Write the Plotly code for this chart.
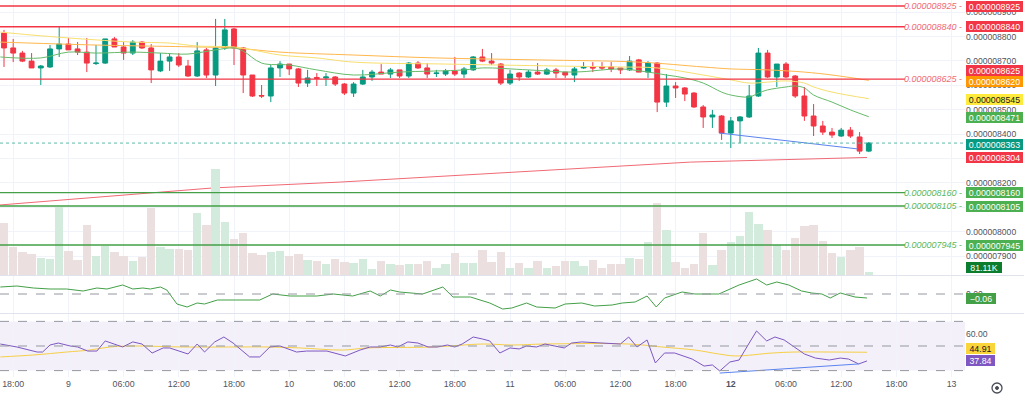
import plotly.graph_objects as go

# ---------------- DATA (price units: 1e-12, i.e. 8925 -> 0.000008925) ----------------
# hourly candles, index 0 = day 8 17:00
opens = [8814, 8753, 8732, 8699, 8671, 8675, 8749, 8769, 8749, 8736,
         8689, 8691, 8790, 8757, 8732, 8777, 8753, 8659, 8699, 8716,
         8679, 8638, 8745, 8642, 8753, 8831, 8753, 8642, 8558, 8556,
         8671, 8687, 8667, 8609, 8632, 8630, 8634, 8605, 8568, 8605,
         8634, 8654, 8646, 8663, 8638, 8691, 8671, 8648, 8646, 8659,
         8646, 8663, 8716, 8699, 8687, 8609, 8650, 8634, 8654, 8646,
         8663, 8654, 8642, 8671, 8675, 8675, 8675, 8671, 8663, 8704,
         8654, 8691, 8531, 8597, 8589, 8568, 8511, 8470, 8474, 8404,
         8454, 8470, 8556, 8732, 8634, 8687, 8638, 8556, 8474, 8433,
         8408, 8392, 8416, 8388, 8330]
highs = [8827, 8790, 8741, 8732, 8683, 8765, 8839, 8794, 8777, 8794,
         8765, 8790, 8798, 8777, 8785, 8781, 8769, 8732, 8732, 8732,
         8704, 8777, 8753, 8872, 8872, 8835, 8757, 8642, 8601, 8683,
         8699, 8687, 8671, 8663, 8650, 8650, 8638, 8609, 8613, 8663,
         8663, 8687, 8671, 8663, 8695, 8699, 8691, 8663, 8667, 8716,
         8675, 8720, 8749, 8732, 8691, 8663, 8654, 8663, 8691, 8671,
         8671, 8654, 8675, 8695, 8695, 8695, 8695, 8671, 8720, 8708,
         8699, 8695, 8646, 8613, 8593, 8572, 8519, 8499, 8478, 8470,
         8474, 8601, 8753, 8745, 8687, 8695, 8642, 8593, 8523, 8454,
         8425, 8425, 8429, 8408, 8367]
lows = [8675, 8695, 8695, 8671, 8601, 8671, 8716, 8745, 8724, 8654,
        8683, 8687, 8757, 8704, 8724, 8749, 8609, 8654, 8659, 8675,
        8634, 8634, 8630, 8597, 8745, 8683, 8568, 8552, 8548, 8531,
        8634, 8642, 8593, 8593, 8597, 8597, 8597, 8560, 8552, 8601,
        8618, 8646, 8630, 8630, 8630, 8667, 8630, 8634, 8638, 8638,
        8630, 8659, 8695, 8683, 8601, 8601, 8618, 8630, 8642, 8642,
        8630, 8630, 8613, 8667, 8654, 8663, 8654, 8646, 8659, 8654,
        8630, 8490, 8511, 8548, 8535, 8507, 8425, 8425, 8376, 8343,
        8363, 8466, 8552, 8630, 8593, 8630, 8548, 8454, 8392, 8396,
        8384, 8388, 8384, 8318, 8326]
closes = [8753, 8732, 8699, 8671, 8679, 8749, 8769, 8745, 8736, 8691,
          8691, 8790, 8757, 8732, 8777, 8753, 8663, 8699, 8716, 8683,
          8638, 8741, 8642, 8753, 8827, 8753, 8642, 8556, 8556, 8671,
          8687, 8667, 8609, 8630, 8628, 8634, 8605, 8568, 8605, 8634,
          8654, 8646, 8663, 8638, 8691, 8671, 8646, 8650, 8659, 8646,
          8667, 8716, 8699, 8691, 8609, 8646, 8634, 8654, 8646, 8663,
          8650, 8642, 8667, 8675, 8671, 8671, 8667, 8663, 8699, 8654,
          8691, 8531, 8597, 8589, 8564, 8511, 8470, 8478, 8404, 8454,
          8470, 8556, 8732, 8634, 8687, 8634, 8556, 8474, 8433, 8408,
          8396, 8416, 8392, 8330, 8363]
volumes_k = [1404, 756, 621, 567, 459, 432, 1836, 648, 405, 1350,
             513, 783, 621, 513, 378, 486, 1809, 756, 702, 702,
             675, 1674, 1350, 2862, 1431, 972, 1134, 594, 540, 621,
             648, 513, 567, 405, 378, 297, 432, 351, 324, 432,
             162, 378, 297, 270, 297, 297, 378, 189, 297, 594,
             324, 324, 675, 351, 621, 189, 324, 189, 378, 189,
             243, 378, 378, 243, 405, 189, 297, 297, 459, 432,
             891, 1944, 1215, 351, 189, 297, 1134, 270, 675, 891,
             1053, 1701, 1377, 1215, 810, 675, 999, 1323, 1350, 918,
             594, 486, 675, 756, 81.11]

# moving averages (candle index, price)
ma_fast_x = [-0.4, 4, 7, 10, 14, 17, 20, 23, 25, 26, 28, 31, 34, 38, 43, 50, 52, 57, 62, 67,
             70, 72, 74, 76, 78, 79, 81, 82, 83, 85, 86, 87, 88, 90, 92, 94]
ma_fast_v = [8716, 8712, 8736, 8732, 8736, 8732, 8728, 8745, 8753, 8740, 8691, 8683, 8663, 8642, 8654,
             8663, 8671, 8663, 8654, 8667, 8654, 8642, 8630, 8609, 8572, 8560, 8552, 8568, 8581, 8593,
             8597, 8589, 8560, 8531, 8499, 8471]
ma_mid_x = [-0.4, 3, 7, 10, 14, 18, 21, 25, 27, 30, 34, 38, 48, 60, 67, 71, 76, 79, 81, 83, 85,
            87, 88, 90, 94]
ma_mid_v = [8818, 8806, 8794, 8786, 8777, 8773, 8761, 8757, 8745, 8724, 8712, 8695, 8687, 8679,
            8675, 8671, 8642, 8622, 8609, 8613, 8618, 8609, 8593, 8572, 8545]
ma_slow_x = [-0.4, 10, 21, 25, 30, 38, 47, 58, 69, 76, 79, 83, 87, 90, 94]
ma_slow_v = [8777, 8765, 8757, 8753, 8736, 8724, 8712, 8704, 8695, 8675, 8667, 8663, 8654, 8642, 8620]
ma_long_x = [-0.5, 17.7, 22.7, 36.5, 56.1, 74.6, 93.8]
ma_long_v = [8109, 8162, 8179, 8203, 8244, 8285, 8304]

trend_x = [77.8, 92.8]
trend_v = [8404, 8339]

levels_red = [8925, 8840, 8625]
levels_green = [8160, 8105, 7945]

# oscillator (CMF-like) pane
cmf_x = [-0.4, 1.4, 3.2, 5.0, 6.8, 8.6, 10.1, 11.2, 12.9, 14.0, 15.1, 15.9, 17.0, 17.7, 18.8, 19.9,
         21.0, 21.8, 23.2, 24.9, 27.8, 29.2, 31.1, 34.0, 35.8, 37.9, 39.8, 40.9, 42.0, 43.0, 45.5,
         47.7, 48.8, 50.7, 52.8, 54.2, 55.2, 56.8, 57.9, 59.9, 61.0, 62.8, 64.2, 66.1, 67.2, 68.6,
         69.9, 70.9, 71.8, 73.7, 75.1, 77.7, 79.9, 81.8, 82.9, 84.0, 85.3, 86.7, 87.8, 88.9, 89.8,
         90.9, 92.5, 93.8]
cmf_v = [0.105, 0.12, 0.09, 0.075, 0.075, 0.045, 0.09, 0.075, 0.135, 0.075, 0.09, 0.075, 0.105, 0.06,
         -0.15, -0.195, -0.135, -0.15, -0.09, -0.09, -0.09, 0.0, -0.03, -0.03, 0.0, -0.03, 0.045, -0.03,
         0.06, 0.03, 0.0, 0.105, -0.045, -0.045, -0.135, -0.225, -0.21, -0.135, -0.195, -0.21, -0.15,
         -0.135, -0.18, -0.165, -0.135, -0.12, -0.03, -0.195, -0.06, 0.03, 0.0, 0.0, 0.135, 0.225, 0.135,
         0.18, 0.135, 0.045, 0.015, 0.0, -0.06, 0.015, -0.045, -0.06]

# RSI pane
rsi_x = [-0.4, 1.4, 3.6, 4.2, 5.0, 5.9, 7.2, 8.0, 9.1, 10.1, 11.0, 12.9, 14.0, 15.0, 16.1, 17.3, 18.0,
         20.0, 21.0, 21.8, 22.9, 23.9, 24.9, 26.7, 27.8, 28.9, 30.0, 31.8, 32.9, 35.1, 37.1, 38.7, 39.8,
         40.9, 42.0, 42.8, 43.9, 45.0, 46.1, 47.1, 48.2, 49.0, 49.8, 51.0, 52.0, 52.8, 53.9, 55.0, 56.0,
         56.8, 57.9, 58.8, 60.9, 61.7, 62.8, 65.5, 67.0, 67.9, 68.8, 69.9, 70.8, 71.8, 72.9, 74.8, 76.1,
         77.0, 77.8, 78.9, 79.9, 81.0, 81.8, 82.9, 83.8, 84.8, 85.9, 87.0, 88.2, 89.7, 90.9, 91.8, 92.9,
         93.8]
rsi_v = [51.6, 49.2, 45.1, 45.1, 50.8, 52.4, 50.0, 49.2, 45.9, 45.9, 54.1, 49.2, 53.3, 51.6, 44.3, 48.4,
         48.4, 43.5, 51.6, 45.1, 53.3, 57.3, 52.4, 41.1, 41.1, 49.2, 50.0, 45.1, 45.9, 45.9, 41.9, 46.7,
         49.2, 49.2, 50.8, 49.2, 53.3, 52.4, 49.2, 49.2, 50.8, 49.2, 51.6, 57.3, 55.7, 54.1, 44.3, 48.4,
         47.6, 50.0, 49.2, 51.6, 48.4, 52.4, 53.3, 52.4, 51.6, 57.3, 49.2, 54.9, 36.2, 44.3, 44.3, 39.4,
         33.7, 34.6, 29.7, 37.0, 38.6, 52.4, 62.2, 54.1, 57.3, 54.9, 49.2, 43.5, 40.2, 38.6, 40.2, 39.4,
         35.4, 37.84]
rsi_ma_x = [-0.4, 3.2, 6.8, 9.3, 11.5, 14.0, 19.5, 24.9, 28.6, 32.2, 36.8, 39.5, 46.6, 52.1, 55.2,
            58.8, 67.9, 71.5, 75.1, 77.7, 79.5, 83.5, 86.0, 89.7, 93.8]
rsi_ma_v = [41.1, 42.7, 45.1, 46.7, 49.2, 50.0, 49.2, 49.2, 49.2, 48.4, 46.7, 48.4, 49.2, 51.6, 50.8,
            51.6, 51.6, 49.2, 46.7, 43.5, 41.9, 44.3, 45.1, 45.1, 44.91]
rsi_trend_x = [77.8, 92.9]
rsi_trend_v = [28.0, 35.4]

tick_pos = [1, 7, 13, 19, 25, 31, 37, 43, 49, 55, 61, 67, 73, 79, 85, 91, 97, 103]
tick_txt = ["18:00", "9", "06:00", "12:00", "18:00", "10", "06:00", "12:00", "18:00", "11",
            "06:00", "12:00", "18:00", "<b>12</b>", "06:00", "12:00", "18:00", "13"]
price_ticks = [7900, 8000, 8100, 8200, 8300, 8400, 8500, 8600, 8700, 8800, 8900]
hidden_price_ticks = [8100, 8300]   # fully covered by value boxes in the reference

# ---------------- STYLE / LAYOUT ----------------
W, H = 1024, 395
ML, MR, MT, MB = 0, 59, 0, 18
PW, PH = W - ML - MR, H - MT - MB
X0_PX, DX_PX = 4.0, 9.2          # candle spacing in pixels


def px_to_i(px):
    return (px - X0_PX) / DX_PX


def fy(py):  # pixel y (from top of plot) -> paper y
    return (PH - py) / PH


def fx(px):
    return px / PW


XR = [px_to_i(0), px_to_i(PW)]
GREEN, RED = "#089981", "#F23645"
FONT = "Liberation Sans, Arial, sans-serif"
GRID = "#f0f3fa"

fig = go.Figure()

vol_colors = ["#d3ebdc" if c >= o else "#ecdfe0" for o, c in zip(opens, closes)]
idx = list(range(len(opens)))
fig.add_trace(go.Bar(x=idx, y=volumes_k, marker=dict(color=vol_colors, line=dict(width=0)),
                     width=0.9, yaxis="y2", xaxis="x", hoverinfo="skip"))
fig.add_trace(go.Scatter(x=ma_long_x, y=ma_long_v, mode="lines", line=dict(color="#f06a74", width=1)))
fig.add_trace(go.Scatter(x=ma_slow_x, y=ma_slow_v, mode="lines", line=dict(color="#ffb74d", width=1, shape="spline")))
fig.add_trace(go.Scatter(x=ma_mid_x, y=ma_mid_v, mode="lines", line=dict(color="#f7df6e", width=1, shape="spline")))
fig.add_trace(go.Scatter(x=ma_fast_x, y=ma_fast_v, mode="lines", line=dict(color="#66bb6a", width=1, shape="spline")))
fig.add_trace(go.Scatter(x=trend_x, y=trend_v, mode="lines", line=dict(color="#5b83f0", width=1)))
fig.add_trace(go.Candlestick(x=idx, open=opens, high=highs, low=lows, close=closes,
                             increasing=dict(line=dict(color=GREEN, width=1), fillcolor=GREEN),
                             decreasing=dict(line=dict(color=RED, width=1), fillcolor=RED),
                             whiskerwidth=0, hoverinfo="skip"))

fig.add_trace(go.Scatter(x=cmf_x, y=cmf_v, mode="lines", line=dict(color="#43a047", width=1),
                         xaxis="x2", yaxis="y3"))
fig.add_trace(go.Scatter(x=rsi_ma_x, y=rsi_ma_v, mode="lines", line=dict(color="#f7cf45", width=1, shape="spline"),
                         xaxis="x3", yaxis="y4"))
fig.add_trace(go.Scatter(x=rsi_x, y=rsi_v, mode="lines", line=dict(color="#7e57c2", width=1),
                         xaxis="x3", yaxis="y4"))
fig.add_trace(go.Scatter(x=rsi_trend_x, y=rsi_trend_v, mode="lines", line=dict(color="#5b83f0", width=1),
                         xaxis="x3", yaxis="y4"))

shapes = []
annotations = []
line_end = px_to_i(905)
for lv in levels_red + levels_green:
    col = "#F23645" if lv in levels_red else "#43a047"
    tcol = "#f06a74" if lv in levels_red else "#5cb85c"
    shapes.append(dict(type="line", xref="x", yref="y", x0=XR[0], x1=line_end, y0=lv, y1=lv,
                       line=dict(color=col, width=1.3)))
    annotations.append(dict(xref="paper", yref="y", x=fx(964), y=lv, xanchor="right", yanchor="middle",
                            text="<i>%.9f</i> -" % (lv / 1e9), showarrow=False,
                            font=dict(family=FONT, size=9, color=tcol)))
# current price dotted line
shapes.append(dict(type="line", xref="x", yref="y", x0=XR[0], x1=XR[1], y0=closes[-1], y1=closes[-1],
                   line=dict(color="#5fb8a8", width=1, dash="dot")))
# oscillator zero line
shapes.append(dict(type="line", xref="x2", yref="y3", x0=XR[0], x1=XR[1], y0=0, y1=0,
                   line=dict(color="#9598a1", width=1, dash="dash")))
# RSI band
shapes.append(dict(type="rect", xref="x3", yref="y4", x0=XR[0], x1=XR[1], y0=30, y1=70,
                   fillcolor="rgba(126,87,194,0.09)", line=dict(width=0), layer="below"))
for lv in (70, 50, 30):
    shapes.append(dict(type="line", xref="x3", yref="y4", x0=XR[0], x1=XR[1], y0=lv, y1=lv,
                       line=dict(color="#9598a1", width=1, dash="dash")))
# pane separators
for py in (275.5, 313.5):
    shapes.append(dict(type="line", xref="paper", yref="paper", x0=0, x1=fx(W), y0=fy(py), y1=fy(py),
                       line=dict(color="#e0e3eb", width=1)))
# settings icon
shapes.append(dict(type="circle", xref="paper", yref="paper", x0=fx(992), x1=fx(1002), y0=fy(393), y1=fy(383),
                   line=dict(color="#4a4d57", width=1.3)))
shapes.append(dict(type="circle", xref="paper", yref="paper", x0=fx(995.5), x1=fx(998.5), y0=fy(389.5), y1=fy(386.5),
                   line=dict(color="#4a4d57", width=1), fillcolor="#4a4d57"))


def box(text, y, yref, bg, fg="#ffffff", w=57, yshift=0):
    annotations.append(dict(xref="paper", yref=yref, x=fx(966), y=y, xanchor="left", yanchor="middle",
                            text=text, showarrow=False, bgcolor=bg, width=w, height=11,
                            borderpad=0, borderwidth=0, yshift=yshift, align="center",
                            font=dict(family=FONT, size=8.8, color=fg)))


for lv in levels_red:
    box("%.9f" % (lv / 1e9), lv, "y", "#F23645", yshift=9 if lv == 8625 else 0)
box("%.9f" % (ma_slow_v[-1] / 1e9), ma_slow_v[-1], "y", "#FF9800", yshift=-1)
box("%.9f" % (ma_mid_v[-1] / 1e9), ma_mid_v[-1], "y", "#FFEB3B", fg="#131722", yshift=-1)
box("%.9f" % (ma_fast_v[-1] / 1e9), ma_fast_v[-1], "y", "#4CAF50", yshift=-1)
box("%.9f" % (closes[-1] / 1e9), closes[-1], "y", "#089981", yshift=-1)
box("%.9f" % (ma_long_v[-1] / 1e9), ma_long_v[-1], "y", "#F23645")
for lv in levels_green:
    box("%.9f" % (lv / 1e9), lv, "y", "#4CAF50")
box("%.2fK" % volumes_k[-1], volumes_k[-1], "y2", "#0b7d2c", w=36, yshift=5)
box("−%.2f" % abs(cmf_v[-1]), cmf_v[-1], "y3", "#43a047", w=30)
box("%.2f" % rsi_ma_v[-1], rsi_ma_v[-1], "y4", "#f9d43a", fg="#131722", w=29, yshift=4)
box("%.2f" % rsi_v[-1], rsi_v[-1], "y4", "#7e57c2", w=29)

axis_common = dict(range=XR, tickvals=tick_pos, showgrid=True, gridcolor=GRID, gridwidth=1,
                   zeroline=False, showline=False, ticks="", fixedrange=True)
yfont = dict(family=FONT, size=8.6, color="#50535e")

fig.update_layout(
    width=W, height=H, margin=dict(l=ML, r=MR, t=MT, b=MB),
    paper_bgcolor="white", plot_bgcolor="white", showlegend=False,
    font=dict(family=FONT, size=9, color="#50535e"),
    bargap=0, boxgap=0.25,
    xaxis=dict(axis_common, domain=[0, 1], anchor="y", showticklabels=False, rangeslider=dict(visible=False)),
    xaxis2=dict(axis_common, domain=[0, 1], anchor="y3", showticklabels=False),
    xaxis3=dict(axis_common, domain=[0, 1], anchor="y4", showticklabels=True, ticktext=tick_txt,
                tickfont=dict(family=FONT, size=8.8, color="#50535e")),
    yaxis=dict(domain=[fy(275), 1], range=[8949.6 - 4.1 * 275, 8949.6], side="right", anchor="x",
               tickvals=price_ticks,
               ticktext=["" if v in hidden_price_ticks else "%.9f" % (v / 1e9) for v in price_ticks],
               tickfont=yfont, showgrid=True, gridcolor=GRID, zeroline=False, ticks="", fixedrange=True),
    yaxis2=dict(overlaying="y", range=[0, 275 * 27], visible=False, fixedrange=True),
    yaxis3=dict(domain=[fy(313), fy(276)], range=[-0.285, 0.27], side="right", anchor="x2",
                tickvals=[0], ticktext=["0.00"], tickfont=yfont, showgrid=False, zeroline=False, ticks=""),
    yaxis4=dict(domain=[0, fy(314)], range=[24.8, 76.0], side="right", anchor="x3",
                tickvals=[40, 60], ticktext=["", "60.00"], tickfont=yfont, showgrid=False,
                zeroline=False, ticks=""),
    shapes=shapes, annotations=annotations,
)

fig.write_html("out.html", config={"displayModeBar": False},
               post_script="document.body.style.margin='0';document.body.style.overflow='hidden';")
